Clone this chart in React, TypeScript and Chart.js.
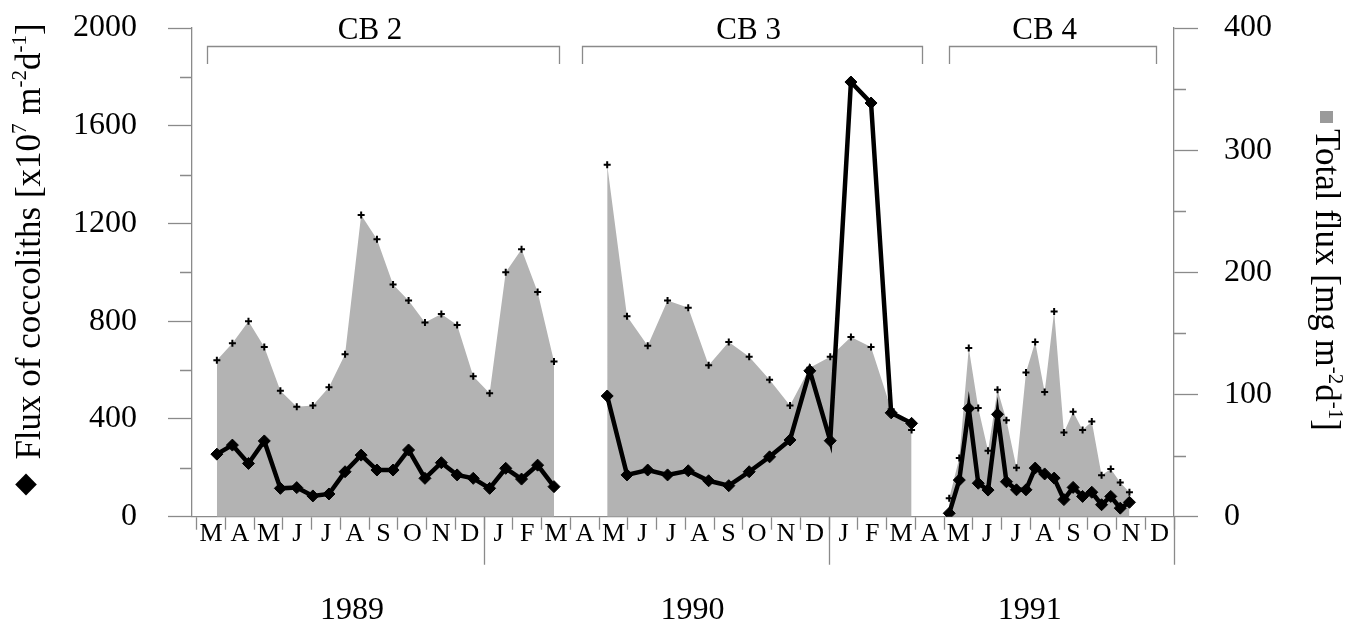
import React, { useEffect, useRef } from 'react';
import { Chart, registerables } from 'chart.js';

Chart.register(...registerables);

const SERIF = '"Liberation Serif", "Times New Roman", serif';
const AXIS_GRAY = '#8a8a8a';
const AREA_GRAY = '#b3b3b3';

// Month initials along the time axis (March 1989 – December 1991)
const monthLabels = [
  'M', 'A', 'M', 'J', 'J', 'A', 'S', 'O', 'N', 'D', 'J', 'F',
  'M', 'A', 'M', 'J', 'J', 'A', 'S', 'O', 'N', 'D', 'J', 'F',
  'M', 'A', 'M', 'J', 'J', 'A', 'S', 'O', 'N', 'D',
];
const yearLabels = ['1989', '1990', '1991'];
const yearLabelAt = [5.4, 17.25, 28.98];

// Trap deployments (months since 1 March 1989)
const deploymentNames = ['CB 2', 'CB 3', 'CB 4'];
const deploymentStart = [0.35, 13.42, 26.16];
const deploymentEnd = [12.6, 25.25, 33.37];
const deploymentLabelAt = [6.03, 19.2, 29.5];

// Sample mid-points, months since 1 March 1989
const cb2Time = [0.70, 1.24, 1.80, 2.35, 2.91, 3.48, 4.04, 4.60, 5.16, 5.72, 6.27, 6.83, 7.37, 7.94, 8.51, 9.06, 9.62, 10.19, 10.75, 11.30, 11.86, 12.43];
const cb2Coccoliths = [256, 293, 218, 310, 116, 119, 85, 93, 184, 252, 191, 191, 273, 157, 221, 171, 157, 116, 198, 154, 211, 123];
const cb2TotalFlux = [128, 142, 160, 139, 103, 90, 91, 106, 133, 247, 227, 190, 177, 159, 166, 157, 115, 101, 200, 219, 184, 127];

const cb3Time = [14.28, 14.97, 15.69, 16.38, 17.10, 17.81, 18.51, 19.22, 19.93, 20.64, 21.33, 22.04, 22.76, 23.46, 24.16, 24.87];
const cb3Coccoliths = [494, 171, 191, 171, 188, 147, 127, 184, 245, 314, 597, 311, 1779, 1693, 425, 382];
const cb3TotalFlux = [288, 164, 140, 177, 171, 124, 143, 131, 112, 91, 122, 131, 147, 139, 88, 71];

const cb4Time = [26.18, 26.53, 26.86, 27.19, 27.53, 27.86, 28.17, 28.52, 28.85, 29.17, 29.50, 29.83, 30.17, 30.49, 30.82, 31.14, 31.48, 31.80, 32.13, 32.45];
const cb4Coccoliths = [14, 150, 443, 137, 109, 419, 143, 110, 110, 199, 175, 158, 70, 120, 83, 100, 49, 83, 35, 59];
const cb4TotalFlux = [15, 48, 138, 89, 54, 104, 79, 40, 118, 143, 102, 168, 69, 86, 71, 78, 34, 39, 28, 20];

type Part = { text: string; sup?: boolean };
const leftTitle: Part[] = [
  { text: 'Flux of coccoliths [x10' }, { text: '7', sup: true }, { text: ' m' },
  { text: '-2', sup: true }, { text: 'd' }, { text: '-1', sup: true }, { text: ']' },
];
const rightTitle: Part[] = [
  { text: 'Total flux [mg m' }, { text: '-2', sup: true }, { text: 'd' },
  { text: '-1', sup: true }, { text: ']' },
];

const pairs = (t: number[], v: number[]) => t.map((x, i) => ({ x, y: v[i] }));

const fluxDataset = (t: number[], v: number[]) => ({
  type: 'line' as const,
  data: pairs(t, v),
  yAxisID: 'y1',
  order: 2,
  fill: 'origin',
  backgroundColor: AREA_GRAY,
  borderColor: 'rgba(0,0,0,0)',
  borderWidth: 1,
  tension: 0,
  pointStyle: 'cross',
  pointRadius: 3.5,
  pointBorderWidth: 2,
  pointBorderColor: '#000',
  pointBackgroundColor: '#000',
});

const coccolithDataset = (t: number[], v: number[]) => ({
  type: 'line' as const,
  data: pairs(t, v),
  yAxisID: 'y',
  order: 1,
  fill: false,
  borderColor: '#000',
  borderWidth: 4.5,
  tension: 0,
  pointStyle: 'rectRot',
  pointRadius: 6,
  pointBorderWidth: 1,
  pointBorderColor: '#000',
  pointBackgroundColor: '#000',
});

function drawRotatedRich(ctx: CanvasRenderingContext2D, parts: Part[], size: number, x: number, y: number, angle: number) {
  ctx.save();
  ctx.translate(x, y);
  ctx.rotate(angle);
  ctx.textBaseline = 'alphabetic';
  ctx.textAlign = 'left';
  ctx.fillStyle = '#000';
  let cx = 0;
  for (const p of parts) {
    const s = p.sup ? size * 0.6 : size;
    ctx.font = `${s}px ${SERIF}`;
    ctx.fillText(p.text, cx, p.sup ? -size * 0.38 : 0);
    cx += ctx.measureText(p.text).width;
  }
  ctx.restore();
}

const decorations = {
  id: 'decorations',
  afterDraw(chart: any) {
    const { ctx, scales } = chart;
    const x = scales.x;
    const y = scales.y;
    const y1 = scales.y1;
    const base = x.top;
    ctx.save();
    ctx.strokeStyle = AXIS_GRAY;
    ctx.lineWidth = 1.3;

    // minor ticks on both value axes
    ctx.beginPath();
    for (const t of y.ticks) {
      if (t.value % 400 !== 0) {
        const py = Math.round(y.getPixelForValue(t.value)) + 0.5;
        ctx.moveTo(y.right - 12, py);
        ctx.lineTo(y.right, py);
      }
    }
    for (const t of y1.ticks) {
      if (t.value % 100 !== 0) {
        const py = Math.round(y1.getPixelForValue(t.value)) + 0.5;
        ctx.moveTo(y1.left, py);
        ctx.lineTo(y1.left + 12, py);
      }
    }
    // long ticks closing each calendar year
    const yearEnds: number[] = [];
    monthLabels.forEach((m, i) => { if (i > 0 && monthLabels[i - 1] === 'D') yearEnds.push(i); });
    yearEnds.push(monthLabels.length);
    for (const m of yearEnds) {
      const px = Math.round(x.getPixelForValue(m)) + 0.5;
      ctx.moveTo(px, base);
      ctx.lineTo(px, base + 48);
    }
    ctx.stroke();

    // deployment brackets
    ctx.beginPath();
    deploymentNames.forEach((_, i) => {
      const a = Math.round(x.getPixelForValue(deploymentStart[i])) + 0.5;
      const b = Math.round(x.getPixelForValue(deploymentEnd[i])) + 0.5;
      ctx.moveTo(a, 64);
      ctx.lineTo(a, 46.5);
      ctx.lineTo(b, 46.5);
      ctx.lineTo(b, 64);
    });
    ctx.stroke();

    ctx.fillStyle = '#000';
    ctx.textAlign = 'center';
    ctx.textBaseline = 'alphabetic';
    ctx.font = `31px ${SERIF}`;
    deploymentNames.forEach((name, i) => {
      ctx.fillText(name, x.getPixelForValue(deploymentLabelAt[i]), 39);
    });

    // year labels
    ctx.font = `32px ${SERIF}`;
    yearLabels.forEach((yr, i) => {
      ctx.fillText(yr, x.getPixelForValue(yearLabelAt[i]), 619);
    });

    // axis titles with their symbol keys
    ctx.beginPath();
    ctx.moveTo(26, 473.5);
    ctx.lineTo(36.8, 484.5);
    ctx.lineTo(26, 495.5);
    ctx.lineTo(15.2, 484.5);
    ctx.closePath();
    ctx.fill();
    drawRotatedRich(ctx, leftTitle, 35, 39.5, 459.6, -Math.PI / 2);

    ctx.fillStyle = '#9a9a9a';
    ctx.fillRect(1320, 111, 13, 12);
    drawRotatedRich(ctx, rightTitle, 35, 1316, 129, Math.PI / 2);

    ctx.restore();
  },
};

// value axes keep a fixed width and do not reserve extra room above/below the plot
const fixValueAxis = (width: number) => (s: any) => {
  s.width = width;
  s.paddingTop = 0;
  s.paddingBottom = 0;
};

export default function App() {
  const canvasRef = useRef<HTMLCanvasElement | null>(null);

  useEffect(() => {
    const canvas = canvasRef.current;
    if (!canvas) return;
    const chart = new Chart(canvas, {
      type: 'line',
      data: {
        datasets: [
          fluxDataset(cb2Time, cb2TotalFlux),
          fluxDataset(cb3Time, cb3TotalFlux),
          fluxDataset(cb4Time, cb4TotalFlux),
          coccolithDataset(cb2Time, cb2Coccoliths),
          coccolithDataset(cb3Time, cb3Coccoliths),
          coccolithDataset(cb4Time, cb4Coccoliths),
        ] as any,
      },
      options: {
        animation: false,
        responsive: false,
        maintainAspectRatio: false,
        devicePixelRatio: 1,
        layout: { padding: { top: 28, left: 0, right: 0, bottom: 0 } },
        plugins: {
          legend: { display: false },
          tooltip: { enabled: false },
        },
        events: [],
        scales: {
          x: {
            type: 'linear',
            min: -0.165,
            max: monthLabels.length,
            afterBuildTicks: (s: any) => {
              const t: { value: number }[] = [];
              for (let i = 0; i < monthLabels.length; i++) {
                t.push({ value: i });
                t.push({ value: i + 0.5 });
              }
              t.push({ value: monthLabels.length });
              s.ticks = t;
            },
            afterFit: (s: any) => {
              s.height = 107.3;
              s.paddingLeft = 0;
              s.paddingRight = 0;
            },
            border: { color: AXIS_GRAY, width: 1.3 },
            grid: {
              drawOnChartArea: false,
              tickLength: 13,
              tickWidth: 1.3,
              tickColor: (c: any) => (c.tick && Number.isInteger(c.tick.value) ? AXIS_GRAY : 'rgba(0,0,0,0)'),
            },
            ticks: {
              autoSkip: false,
              maxRotation: 0,
              minRotation: 0,
              padding: -9,
              color: '#000',
              font: { family: SERIF, size: 26, lineHeight: 1 },
              callback: (v: any) => (Number.isInteger(v) ? '' : monthLabels[Math.floor(v)]),
            },
          },
          y: {
            position: 'left',
            min: 0,
            max: 2000,
            afterFit: fixValueAxis(192),
            border: { color: AXIS_GRAY, width: 1.3 },
            grid: {
              drawOnChartArea: false,
              tickLength: 24,
              tickWidth: 1.3,
              tickColor: (c: any) => (c.tick && c.tick.value % 400 === 0 ? AXIS_GRAY : 'rgba(0,0,0,0)'),
            },
            ticks: {
              stepSize: 200,
              padding: 31,
              color: '#000',
              font: { family: SERIF, size: 32 },
              callback: (v: any) => (v % 400 === 0 ? String(v) : ''),
            },
          },
          y1: {
            position: 'right',
            min: 0,
            max: 400,
            afterFit: fixValueAxis(178),
            border: { color: AXIS_GRAY, width: 1.3 },
            grid: {
              drawOnChartArea: false,
              tickLength: 24,
              tickWidth: 1.3,
              tickColor: (c: any) => (c.tick && c.tick.value % 100 === 0 ? AXIS_GRAY : 'rgba(0,0,0,0)'),
            },
            ticks: {
              stepSize: 50,
              padding: 26,
              color: '#000',
              font: { family: SERIF, size: 32 },
              callback: (v: any) => (v % 100 === 0 ? String(v) : ''),
            },
          },
        },
      } as any,
      plugins: [decorations],
    });
    return () => chart.destroy();
  }, []);

  return (
    <div style={{ position: 'fixed', left: 0, top: 0, width: 1352, height: 624, background: '#fff' }}>
      <canvas ref={canvasRef} width={1352} height={624} style={{ display: 'block' }} />
    </div>
  );
}
